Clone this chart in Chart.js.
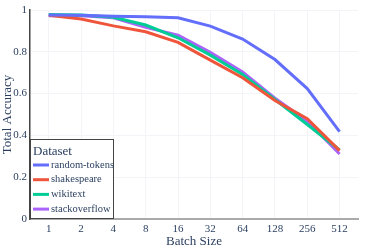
<!DOCTYPE html>
<html><head><meta charset="utf-8">
<script src="https://cdn.jsdelivr.net/npm/chart.js@4/dist/chart.umd.min.js"></script>
<style>html,body{margin:0;padding:0;background:#fff}#wrap{width:373px;height:249px}</style>
</head><body><div id="wrap"><canvas id="c" width="373" height="249"></canvas></div>
<script>
const batchSizes = ["1","2","4","8","16","32","64","128","256","512"];
const seriesNames = ["random-tokens","shakespeare","wikitext","stackoverflow"];
const randomTokens = [0.976,0.975,0.970,0.968,0.963,0.923,0.861,0.763,0.624,0.418];
const shakespeare = [0.975,0.957,0.924,0.896,0.845,0.760,0.676,0.567,0.480,0.327];
const wikitext = [0.978,0.976,0.965,0.928,0.867,0.784,0.692,0.572,0.452,0.330];
const stackoverflow = [0.972,0.973,0.963,0.917,0.880,0.797,0.703,0.578,0.468,0.311];
const colors = ["#636efa","#EF553B","#00cc96","#ab63fa"];
const yTicks = [0,0.2,0.4,0.6,0.8,1];

const allSeries = [randomTokens, shakespeare, wikitext, stackoverflow];
const datasets = allSeries.map((s,i)=>({
  label: seriesNames[i],
  data: s.map((v,j)=>({x:j,y:v})),
  borderColor: colors[i], backgroundColor: colors[i],
  borderWidth: 3, pointRadius: 0, tension: 0, fill:false
}));
const serif = "'Liberation Serif','Times New Roman',serif";
const txt = "#2a3f5f";

const legendPlugin = {
  id:'boxLegend',
  afterDraw(chart){
    const ctx = chart.ctx, a = chart.chartArea;
    const x0 = a.left, y1 = a.bottom, w = 84, h = 80, y0 = y1 - h;
    ctx.save();
    ctx.fillStyle = '#fff';
    ctx.fillRect(x0, y0, w, h);
    ctx.strokeStyle = '#444'; ctx.lineWidth = 1;
    ctx.strokeRect(x0+0.5, y0+0.5, w-1, h-1);
    ctx.fillStyle = txt;
    ctx.font = "13px " + serif;
    ctx.textBaseline = 'middle';
    ctx.fillText("Dataset", x0+3, y0+13);
    ctx.font = "10.5px " + serif;
    seriesNames.forEach((n,i)=>{
      const yy = y0 + 26 + i*14.7;
      ctx.strokeStyle = colors[i]; ctx.lineWidth = 3;
      ctx.beginPath(); ctx.moveTo(x0+3, yy); ctx.lineTo(x0+19, yy); ctx.stroke();
      ctx.fillStyle = txt;
      ctx.fillText(n, x0+21, yy);
    });
    ctx.restore();
  }
};

new Chart(document.getElementById('c'), {
  type:'line',
  data:{datasets},
  options:{
    responsive:false, animation:false,
    layout:{padding:{top:10,right:15,left:0,bottom:0}},
    plugins:{legend:{display:false}, tooltip:{enabled:false}},
    scales:{
      x:{type:'linear', min:-0.58, max:9.57,
        afterBuildTicks(s){ s.ticks = batchSizes.map((b,i)=>({value:i})); },
        afterFit(s){ s.height = 30; },
        ticks:{callback:(v)=>batchSizes[v], color:txt, font:{family:serif,size:11}, maxRotation:0, padding:4},
        grid:{color:'#f2f4f8', drawTicks:false},
        border:{color:'#aaaaaa', width:2},
        title:{display:true, text:'Batch Size', color:txt, font:{family:serif,size:13}, padding:{top:1,bottom:0}}
      },
      y:{min:0, max:1,
        afterBuildTicks(s){ s.ticks = yTicks.map(v=>({value:v})); },
        afterFit(s){ s.width = 30; },
        ticks:{callback:(v)=>String(+v.toFixed(1)), color:txt, font:{family:serif,size:11}, padding:3},
        grid:{color:'#f2f4f8', drawTicks:false},
        border:{color:'#444444', width:1.5},
        title:{display:true, text:'Total Accuracy', color:txt, font:{family:serif,size:13}, padding:{top:0,bottom:0}}
      }
    }
  },
  plugins:[legendPlugin]
});
</script></body></html>
